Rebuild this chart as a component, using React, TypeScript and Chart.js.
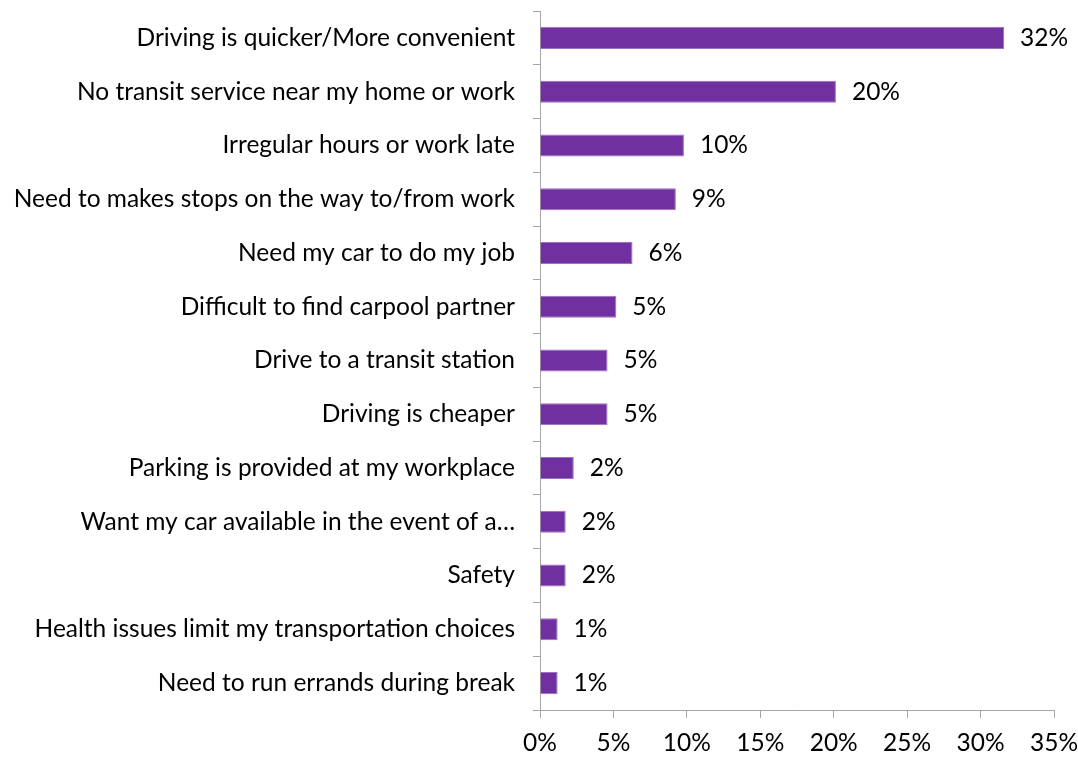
import React, { useEffect, useRef } from "react";
import { Chart, registerables } from "chart.js";

Chart.register(...registerables);

const categories = [
  "Driving is quicker/More convenient",
  "No transit service near my home or work",
  "Irregular hours or work late",
  "Need to makes stops on the way to/from work",
  "Need my car to do my job",
  "Difficult to find carpool partner",
  "Drive to a transit station",
  "Driving is cheaper",
  "Parking is provided at my workplace",
  "Want my car available in the event of a…",
  "Safety",
  "Health issues limit my transportation choices",
  "Need to run errands during break",
];

const values = [31.6, 20.15, 9.8, 9.25, 6.3, 5.2, 4.6, 4.6, 2.3, 1.75, 1.75, 1.2, 1.2];

const valueLabels = ["32%", "20%", "10%", "9%", "6%", "5%", "5%", "5%", "2%", "2%", "2%", "1%", "1%"];

const xTicks = [0, 5, 10, 15, 20, 25, 30, 35];

const FONT = "Lato, 'Open Sans', sans-serif";
const FONT_SIZE = 24.5;

const valueLabelPlugin = {
  id: "valueLabels",
  afterDatasetsDraw(chart: any) {
    const ctx = chart.ctx;
    const meta = chart.getDatasetMeta(0);
    ctx.save();
    ctx.font = `${FONT_SIZE}px ${FONT}`;
    ctx.fillStyle = "#000";
    ctx.textAlign = "left";
    ctx.textBaseline = "middle";
    meta.data.forEach((bar: any, i: number) => {
      ctx.fillText(valueLabels[i], bar.x + 16, bar.y);
    });
    ctx.restore();
  },
};

export default function App() {
  const ref = useRef<HTMLCanvasElement | null>(null);

  useEffect(() => {
    if (!ref.current) return;
    const chart = new Chart(ref.current, {
      type: "bar",
      data: {
        labels: categories,
        datasets: [
          {
            data: values,
            backgroundColor: "#7030A0",
            borderColor: "#9A70C2",
            borderWidth: { top: 1, bottom: 1, left: 0, right: 1 },
            barPercentage: 0.41,
            categoryPercentage: 1,
          },
        ],
      },
      options: {
        indexAxis: "y",
        animation: false,
        responsive: true,
        maintainAspectRatio: false,
        layout: { padding: { top: 11, right: 24, left: 0, bottom: 0 } },
        plugins: {
          legend: { display: false },
          tooltip: { enabled: false },
        },
        scales: {
          x: {
            min: 0,
            max: 35,
            afterBuildTicks(scale: any) {
              scale.ticks = xTicks.map((v) => ({ value: v }));
            },
            afterFit(scale: any) {
              scale.height = 47;
              scale.paddingLeft = 0;
              scale.paddingRight = 0;
            },
            ticks: {
              callback: (v: any) => `${v}%`,
              color: "#000",
              font: { family: FONT, size: FONT_SIZE },
              padding: 10,
              maxRotation: 0,
            },
            grid: {
              drawOnChartArea: false,
              drawTicks: true,
              tickLength: 8,
              color: "#A6A6A6",
              lineWidth: 1,
            },
            border: { color: "#A6A6A6", width: 1 },
          },
          y: {
            afterFit(scale: any) {
              scale.width = 540;
              scale.paddingTop = 0;
              scale.paddingBottom = 0;
            },
            ticks: {
              color: "#000",
              font: { family: FONT, size: FONT_SIZE },
              padding: 18,
              autoSkip: false,
            },
            grid: {
              drawOnChartArea: false,
              drawTicks: true,
              tickLength: 7,
              color: "#A6A6A6",
              lineWidth: 1,
              offset: true,
            },
            border: { color: "#A6A6A6", width: 1 },
          },
        },
      },
      plugins: [valueLabelPlugin],
    });
    return () => chart.destroy();
  }, []);

  return (
    <div style={{ position: "absolute", left: 0, top: 0, width: 1078, height: 757, background: "#fff" }}>
      <canvas ref={ref} />
    </div>
  );
}
